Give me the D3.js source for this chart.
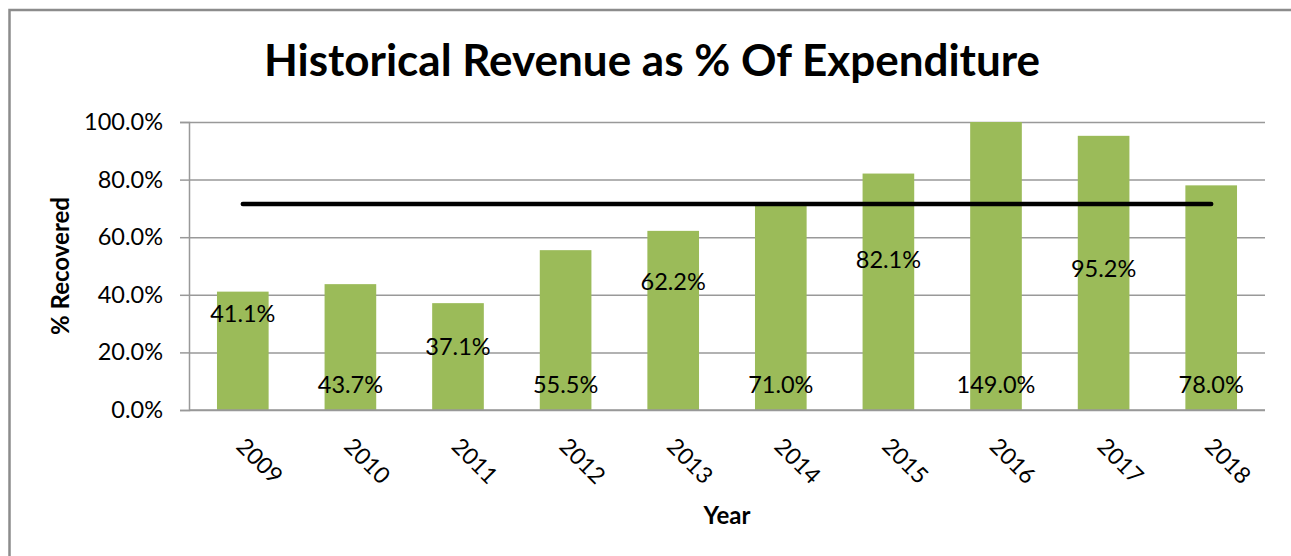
<!DOCTYPE html>
<html>
<head>
<meta charset="utf-8">
<script src="https://cdn.jsdelivr.net/npm/d3@7"></script>
<style>
  body { margin: 0; background: #fff; }
  text { font-family: Lato, "Open Sans", sans-serif; fill: #000; }
</style>
</head>
<body>
<svg class="chart"></svg>
<script>
(function() {
  'use strict';

// data
var years = ['2009', '2010', '2011', '2012', '2013', '2014', '2015', '2016', '2017', '2018'];
var recovered = [41.1, 43.7, 37.1, 55.5, 62.2, 71.0, 82.1, 149.0, 95.2, 78.0];
// where Excel dropped each data label, in % units
var labelAt = [33.6, 9, 22, 9, 44.5, 9, 52.1, 9, 49.2, 9];
var yTicks = [0, 20, 40, 60, 80, 100];

var width = 1291,
    height = 556;

var plot = { left: 189, right: 1265, top: 122, bottom: 410 };

var svg = d3.select('.chart')
    .attr('width', width)
    .attr('height', height);

// outer chart border (only top & left are in frame)
svg.append('rect')
    .attr('x', 9.5)
    .attr('y', 10)
    .attr('width', width + 20)
    .attr('height', height + 20)
    .attr('fill', 'none')
    .attr('stroke', '#8c8c8c')
    .attr('stroke-width', 2.5);

var x = d3.scaleBand()
    .domain(years)
    .range([plot.left, plot.right])
    .paddingInner(0.52)
    .paddingOuter(0.26);

var y = d3.scaleLinear()
    .domain([0, 100])
    .range([plot.bottom, plot.top]);

var pct = function(d) { return d3.format('.1f')(d) + '%'; };

// gridlines + y axis
var yAxis = svg.append('g')
    .attr('transform', 'translate(' + plot.left + ',0)')
    .call(d3.axisLeft(y).tickValues(yTicks).tickSize(9).tickPadding(17).tickFormat(pct));

yAxis.select('.domain').attr('stroke', '#999').attr('stroke-width', 1.5);
yAxis.selectAll('.tick line').attr('stroke', '#999').attr('stroke-width', 1.5);
yAxis.selectAll('.tick text')
    .style('font-size', '23.5px')
    .attr('fill', '#000');

yAxis.selectAll('.tick')
  .append('line')
    .attr('x1', 0)
    .attr('x2', plot.right - plot.left)
    .attr('stroke', '#999')
    .attr('stroke-width', 1.5);

// bars (clipped at 100%)
svg.append('g').selectAll('rect')
    .data(recovered)
  .enter().append('rect')
    .attr('x', function(d, i) { return x(years[i]); })
    .attr('y', function(d) { return y(Math.min(d, 100)); })
    .attr('width', x.bandwidth())
    .attr('height', function(d) { return plot.bottom - y(Math.min(d, 100)); })
    .attr('fill', '#9bbb59');

// x axis baseline
svg.append('line')
    .attr('x1', plot.left)
    .attr('x2', plot.right)
    .attr('y1', plot.bottom)
    .attr('y2', plot.bottom)
    .attr('stroke', '#999')
    .attr('stroke-width', 1.5);

// average line
var avg = d3.mean(recovered);
var cx = function(yr) { return x(yr) + x.bandwidth() / 2; };
svg.append('line')
    .attr('x1', cx(years[0]))
    .attr('x2', cx(years[years.length - 1]))
    .attr('y1', y(avg))
    .attr('y2', y(avg))
    .attr('stroke', '#000')
    .attr('stroke-width', 4.5)
    .attr('stroke-linecap', 'round');

// data labels
svg.append('g').selectAll('text')
    .data(recovered)
  .enter().append('text')
    .attr('x', function(d, i) { return cx(years[i]); })
    .attr('y', function(d, i) { return y(labelAt[i]); })
    .attr('dy', '0.36em')
    .attr('text-anchor', 'middle')
    .style('font-size', '23.5px')
    .text(pct);

// rotated year labels
svg.append('g').selectAll('text')
    .data(years)
  .enter().append('text')
    .attr('transform', function(d) { return 'translate(' + (cx(d) + 4) + ',436) rotate(45)'; })
    .attr('dy', '0.72em')
    .style('font-size', '23px')
    .text(function(d) { return d; });

// titles
svg.append('text')
    .attr('x', 652)
    .attr('y', 76)
    .attr('text-anchor', 'middle')
    .style('font-size', '44px')
    .style('font-weight', 'bold')
    .text('Historical Revenue as % Of Expenditure');

svg.append('text')
    .attr('transform', 'translate(69,' + ((plot.top + plot.bottom) / 2) + ') rotate(-90)')
    .attr('text-anchor', 'middle')
    .style('font-size', '24px')
    .style('font-weight', 'bold')
    .text('% Recovered');

svg.append('text')
    .attr('x', (plot.left + plot.right) / 2)
    .attr('y', 524)
    .attr('text-anchor', 'middle')
    .style('font-size', '24px')
    .style('font-weight', 'bold')
    .text('Year');
}());
</script>
</body>
</html>
